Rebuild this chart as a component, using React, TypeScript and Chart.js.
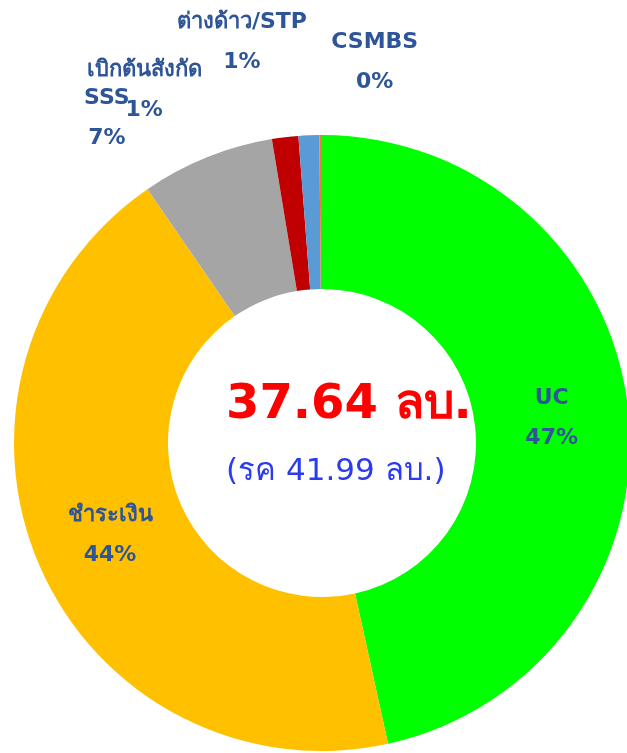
import React, { useEffect, useRef } from "react";
import { Chart, registerables } from "chart.js";

Chart.register(...registerables);

const categories = ["UC", "ชำระเงิน", "SSS", "เบิกต้นสังกัด", "ต่างด้าว/STP", "CSMBS"];
const values = [17.53, 16.51, 2.63, 0.52, 0.41, 0.05];
const colors = ["#00FF00", "#FFC000", "#A5A5A5", "#C00000", "#5B9BD5", "#ED7D31"];
// label placement: "in" = inside ring at centroid; otherwise offset from outer arc midpoint
const labelModes = ["in", "in", "out", "out", "out", "out"];
const labelOffsets: [number, number][] = [
  [0, 0],
  [0, 0],
  [-100, -39],
  [-141, -47],
  [-67, -93],
  [54, -73],
];
const centerTitle = "37.64 ลบ.";
const centerSubtitle = "(รค 41.99 ลบ.)";

const LABEL_COLOR = "#2E5597";
const FONT = "'DejaVu Sans', 'Noto Sans', sans-serif";

const labelPlugin = {
  id: "customLabels",
  afterDatasetsDraw(chart: any) {
    const ctx = chart.ctx;
    const meta = chart.getDatasetMeta(0);
    const data = chart.data.datasets[0].data as number[];
    const total = data.reduce((a, b) => a + b, 0);
    ctx.save();
    ctx.textAlign = "center";
    ctx.textBaseline = "middle";
    ctx.fillStyle = LABEL_COLOR;
    ctx.font = `bold 22px ${FONT}`;
    meta.data.forEach((arc: any, i: number) => {
      const pct = Math.round((data[i] / total) * 100) + "%";
      const p = arc.getProps(["x", "y", "startAngle", "endAngle", "outerRadius", "innerRadius"], true);
      let cx: number, cy: number;
      if (labelModes[i] === "in") {
        const pos = arc.tooltipPosition(true);
        cx = pos.x;
        cy = pos.y;
      } else {
        const mid = (p.startAngle + p.endAngle) / 2;
        cx = p.x + Math.cos(mid) * p.outerRadius + labelOffsets[i][0];
        cy = p.y + Math.sin(mid) * p.outerRadius + labelOffsets[i][1];
      }
      ctx.fillText(categories[i], cx, cy - 20);
      ctx.fillText(pct, cx, cy + 20);
    });
    // center text
    const arc0 = meta.data[0].getProps(["x", "y"], true);
    ctx.textAlign = "left";
    ctx.fillStyle = "#FF0000";
    ctx.font = `bold 48px ${FONT}`;
    ctx.fillText(centerTitle, arc0.x - 96, arc0.y - 37);
    ctx.fillStyle = "#2B3BF0";
    ctx.font = `31px ${FONT}`;
    ctx.fillText(centerSubtitle, arc0.x - 96, arc0.y + 29);
    ctx.restore();
  },
};

export default function App() {
  const ref = useRef<HTMLCanvasElement | null>(null);
  useEffect(() => {
    document.body.style.margin = "0";
    document.body.style.overflow = "hidden";
    if (!ref.current) return;
    const chart = new Chart(ref.current, {
      type: "doughnut",
      data: {
        labels: categories,
        datasets: [
          {
            data: values,
            backgroundColor: colors,
            borderWidth: 0,
          },
        ],
      },
      options: {
        responsive: false,
        animation: false,
        cutout: "50%",
        layout: { padding: { left: 14, right: 14, top: 135, bottom: 2 } },
        plugins: {
          legend: { display: false },
          tooltip: { enabled: false },
        },
      },
      plugins: [labelPlugin],
    });
    return () => chart.destroy();
  }, []);
  return (
    <div style={{ position: "fixed", left: 0, top: 0, width: 627, height: 753, overflow: "hidden", background: "#fff" }}>
      <canvas ref={ref} width={644} height={753} style={{ display: "block" }} />
    </div>
  );
}
